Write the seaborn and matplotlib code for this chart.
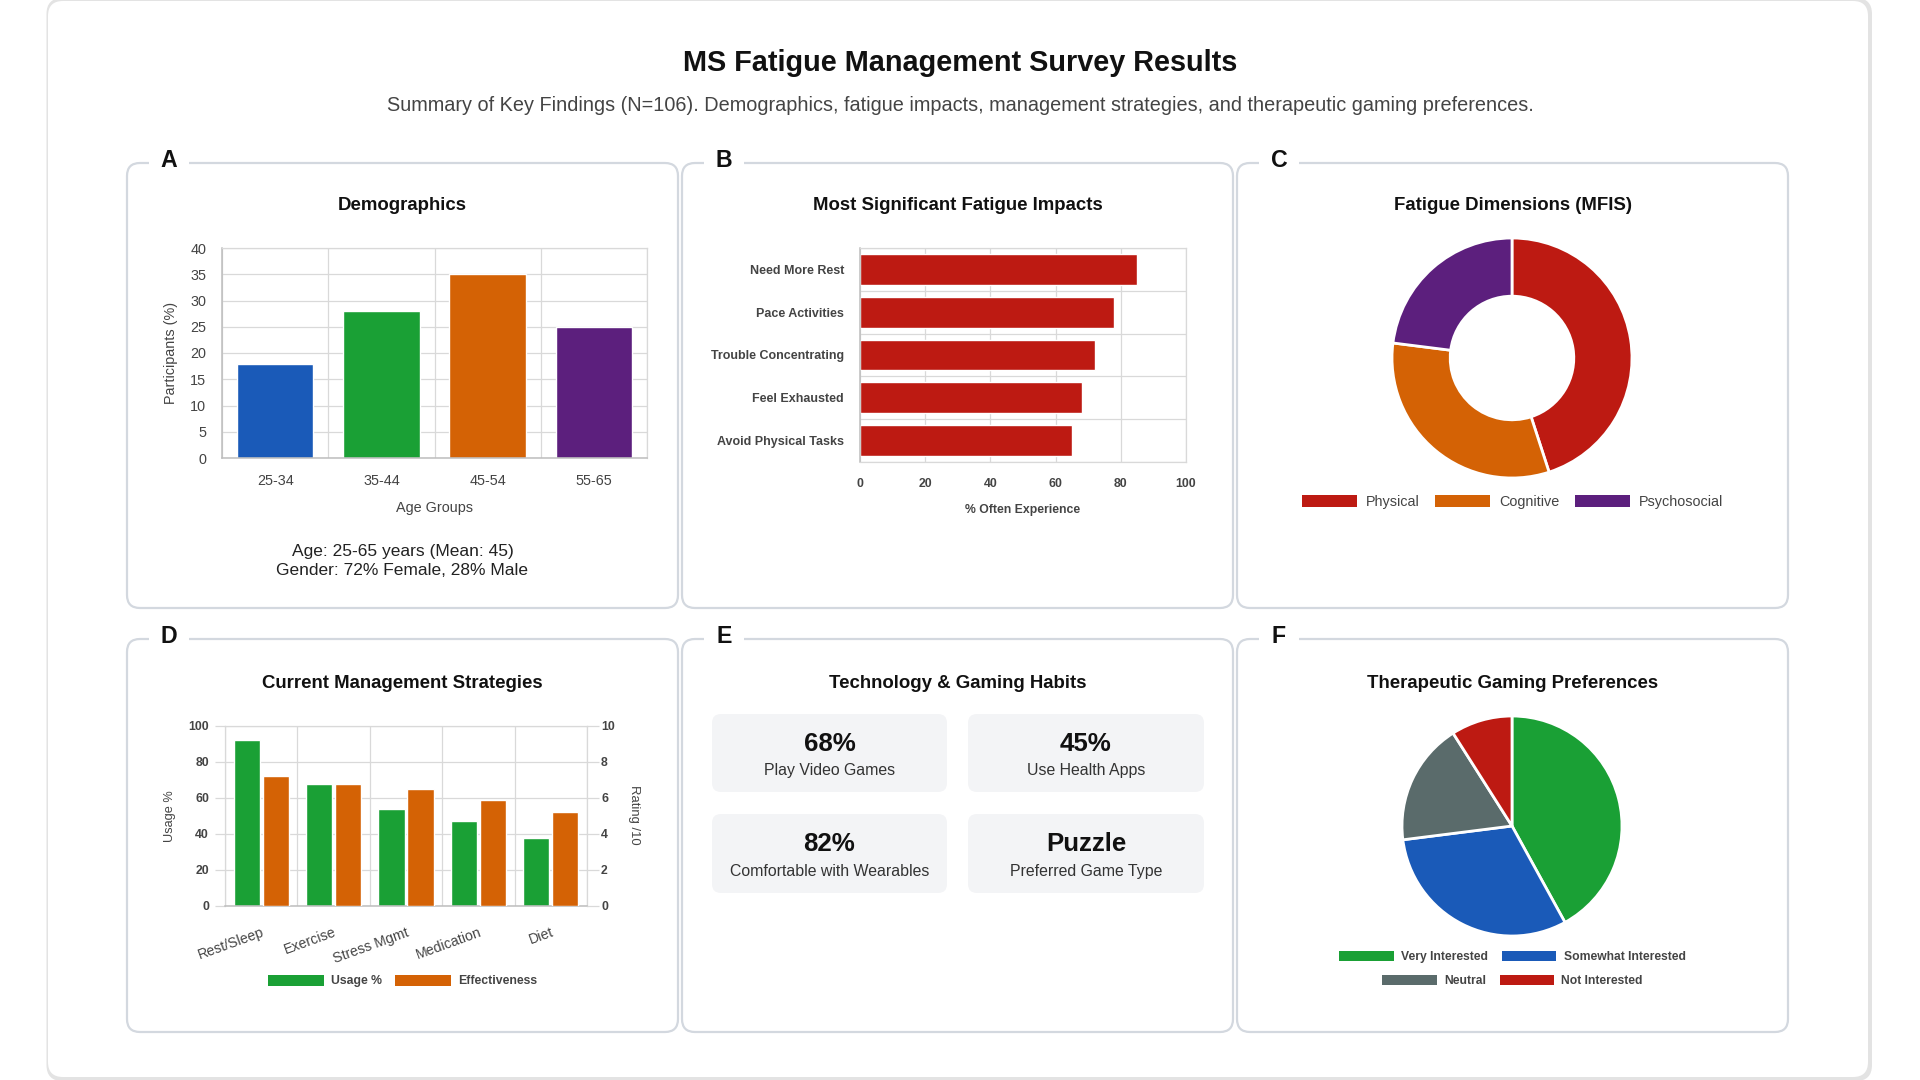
import numpy as np
import pandas as pd
import matplotlib
matplotlib.use("Agg")
import matplotlib.pyplot as plt
import seaborn as sns
from matplotlib.patches import FancyBboxPatch, Patch, Rectangle

# ---------------- data ----------------
age_groups = ["25-34", "35-44", "45-54", "55-65"]
age_pct = [18, 28, 35, 25]

impact_labels = ["Need More Rest", "Pace Activities", "Trouble Concentrating",
                 "Feel Exhausted", "Avoid Physical Tasks"]
impact_pct = [85, 78, 72, 68, 65]

dim_labels = ["Physical", "Cognitive", "Psychosocial"]
dim_values = [45, 32, 23]

strategies = ["Rest/Sleep", "Exercise", "Stress Mgmt", "Medication", "Diet"]
usage_pct = [92, 68, 54, 47, 38]
effectiveness = [7.2, 6.8, 6.5, 5.9, 5.2]
series_names = ["Usage %", "Effectiveness"]

stat_values = ["68%", "45%", "82%", "Puzzle"]
stat_labels = ["Play Video Games", "Use Health Apps",
               "Comfortable with Wearables", "Preferred Game Type"]

pref_labels = ["Very Interested", "Somewhat Interested", "Neutral", "Not Interested"]
pref_values = [42, 31, 18, 9]

# ---------------- style ----------------
BLUE, GREEN, ORANGE, PURPLE = "#1a5ab8", "#1aa035", "#d46205", "#5c1f7d"
RED, SLATE = "#bd1a12", "#5a6b6b"
GRID, AXIS, TICK = "#d9d9d9", "#bdbdbd", "#444444"

sns.set_theme(style="white")
plt.rcParams["font.family"] = ["Liberation Sans", "DejaVu Sans"]

W, H = 1920, 1080
fig = plt.figure(figsize=(19.2, 10.8), dpi=100, facecolor="white")
bg = fig.add_axes([0, 0, 1, 1], zorder=-10)
bg.set_xlim(0, W)
bg.set_ylim(H, 0)
bg.axis("off")


def add_axes_px(l, t, r, b):
    return fig.add_axes([l / W, 1 - b / H, (r - l) / W, (b - t) / H])


def rbox(x0, y0, x1, y1, r, fc, ec="none", lw=0, z=1):
    p = FancyBboxPatch((x0, y0), x1 - x0, y1 - y0,
                       boxstyle=f"round,pad=0,rounding_size={r}",
                       fc=fc, ec=ec, lw=lw, zorder=z)
    bg.add_patch(p)


def ptext(x, yc, s, size, weight="normal", color="#222222", ha="center"):
    px = size / 0.72
    yb = yc + 0.36 * px
    fig.text(x / W, 1 - yb / H, s, fontsize=size, fontweight=weight,
             color=color, ha=ha, va="baseline")


def legend_px(labels, colors, xc, yc, size, weight, hl, hh, htp, cs):
    handles = [Patch(facecolor=c, edgecolor=c, linewidth=0) for c in colors]
    fig.legend(handles, labels, loc="center", bbox_to_anchor=(xc / W, 1 - yc / H),
               ncol=len(labels), frameon=False,
               prop={"size": size, "weight": weight, "family": ["Liberation Sans", "DejaVu Sans"]},
               handlelength=hl, handleheight=hh, handletextpad=htp,
               columnspacing=cs, borderpad=0, borderaxespad=0, labelcolor=TICK)


def style_spines(ax, dark=("left", "bottom")):
    for k, s in ax.spines.items():
        s.set_color(AXIS if k in dark else GRID)
        s.set_linewidth(1.1 if k in dark else 0.9)
    ax.set_axisbelow(True)


# ---------------- outer card ----------------
rbox(46.5, -2, 1872, 1081, 16, "#e3e3e3", z=0)
rbox(48, 1, 1868, 1077, 15, "white", z=0.5)

ptext(960, 61, "MS Fatigue Management Survey Results", 20.8, "bold", "#111111")
ptext(960, 104, "Summary of Key Findings (N=106). Demographics, fatigue impacts, "
      "management strategies, and therapeutic gaming preferences.", 14.3, "normal", "#444444")

# ---------------- panels ----------------
cols = [(127, 678), (682, 1233), (1237, 1788)]
rows = [(163, 608), (639, 1032)]
letters = ["A", "B", "C", "D", "E", "F"]
titles = ["Demographics", "Most Significant Fatigue Impacts", "Fatigue Dimensions (MFIS)",
          "Current Management Strategies", "Technology & Gaming Habits",
          "Therapeutic Gaming Preferences"]
title_y = [203, 681]
for ri, (t, b) in enumerate(rows):
    for ci, (l, r) in enumerate(cols):
        idx = ri * 3 + ci
        rbox(l, t, r, b, 13, "white", "#d3d8df", 1.6, z=1)
        bg.add_patch(Rectangle((l + 22, t - 12), 40, 22, fc="white", ec="none", zorder=2))
        ptext(l + 42, t - 4, letters[idx], 16.7, "bold", "#111111")
        ptext((l + r) / 2, title_y[ri], titles[idx], 13.4, "bold", "#111111")

# ---------------- A: demographics ----------------
axA = add_axes_px(222, 248, 647, 458)
sns.barplot(x=age_groups, y=age_pct, hue=age_groups,
            palette=[BLUE, GREEN, ORANGE, PURPLE], legend=False,
            width=0.72, saturation=1, ax=axA)
axA.set_xlim(-0.5, 3.5)
axA.set_ylim(0, 40)
axA.set_yticks(range(0, 41, 5))
axA.set_xticks(range(4))
axA.set_xticklabels(age_groups)
axA.set_xticks(np.arange(-0.5, 4, 1), minor=True)
axA.grid(axis="y", which="major", color=GRID, lw=0.9)
axA.grid(axis="x", which="minor", color=GRID, lw=0.9)
axA.tick_params(axis="x", which="major", length=0, pad=11.5, labelsize=10.4, labelcolor=TICK)
axA.tick_params(axis="x", which="minor", length=8, width=0.9, color=GRID)
axA.tick_params(axis="y", length=8.6, width=0.9, pad=2.9, color=GRID,
                labelsize=10.4, labelcolor=TICK)
axA.set_xlabel("")
axA.set_ylabel("")
style_spines(axA)
fig.text(434.5 / W, 1 - 508 / H, "Age Groups", fontsize=10.4, color=TICK, ha="center", va="center")
fig.text(171 / W, 1 - 353 / H, "Participants (%)", fontsize=10.4, color=TICK,
         ha="center", va="center", rotation=90)
ptext(402.5, 550, "Age: 25-65 years (Mean: 45)", 12.5, "normal", "#222222")
ptext(402.5, 569, "Gender: 72% Female, 28% Male", 12.5, "normal", "#222222")

# ---------------- B: impacts ----------------
axB = add_axes_px(860, 248, 1186, 462)
dfB = pd.DataFrame({"Impact": impact_labels, "Pct": impact_pct})
sns.barplot(data=dfB, x="Pct", y="Impact", orient="h", color=RED,
            width=0.72, saturation=1, ax=axB)
axB.set_xlim(0, 100)
axB.set_ylim(4.5, -0.5)
axB.set_xticks(range(0, 101, 20))
axB.set_xticklabels([str(v) for v in range(0, 101, 20)], fontweight="bold")
axB.set_yticks(range(5))
axB.set_yticklabels(impact_labels, fontweight="bold")
axB.set_yticks(np.arange(-0.5, 5, 1), minor=True)
axB.grid(axis="x", which="major", color=GRID, lw=0.9)
axB.grid(axis="y", which="minor", color=GRID, lw=0.9)
axB.tick_params(axis="y", which="major", length=0, pad=11.5, labelsize=9, labelcolor=TICK)
axB.tick_params(axis="y", which="minor", length=8.6, width=0.9, color=GRID)
axB.tick_params(axis="x", length=7.2, width=0.9, pad=4.3, color=GRID,
                labelsize=8.8, labelcolor=TICK)
axB.set_xlabel("")
axB.set_ylabel("")
style_spines(axB, dark=("left",))
fig.text(1023 / W, 1 - 509.5 / H, "% Often Experience", fontsize=8.8, fontweight="bold",
         color=TICK, ha="center", va="center")

# ---------------- C: donut ----------------
axC = add_axes_px(1392, 238, 1632, 478)
wedges, _ = axC.pie(dim_values, colors=[RED, ORANGE, PURPLE], startangle=90,
                    counterclock=False,
                    wedgeprops=dict(width=0.485, edgecolor="white", linewidth=2))
for w in wedges:
    w.set_clip_on(False)
axC.set_xlim(-1, 1)
axC.set_ylim(-1, 1)
axC.set_aspect("equal")
axC.axis("off")
legend_px(dim_labels, [RED, ORANGE, PURPLE], 1512.5, 502, 10.4, "normal",
          3.8, 0.83, 0.62, 1.09)

# ---------------- D: strategies ----------------
axD = add_axes_px(225, 726, 587, 906)
axD2 = axD.twinx()
dfU = pd.DataFrame({"Strategy": strategies, "Value": usage_pct, "Series": series_names[0]})
dfE = pd.DataFrame({"Strategy": strategies, "Value": effectiveness, "Series": series_names[1]})
pal = {series_names[0]: GREEN, series_names[1]: ORANGE}
sns.barplot(data=dfU, x="Strategy", y="Value", hue="Series", hue_order=series_names,
            order=strategies, palette=pal, dodge=True, width=0.8, gap=0.1,
            saturation=1, legend=False, ax=axD)
sns.barplot(data=dfE, x="Strategy", y="Value", hue="Series", hue_order=series_names,
            order=strategies, palette=pal, dodge=True, width=0.8, gap=0.1,
            saturation=1, legend=False, ax=axD2)
axD.set_ylim(0, 100)
axD2.set_ylim(0, 10)
axD.set_xlim(-0.5, 4.5)
axD.set_yticks(range(0, 101, 20))
axD.set_yticklabels([str(v) for v in range(0, 101, 20)], fontweight="bold")
axD2.set_yticks(range(0, 11, 2))
axD2.set_yticklabels([str(v) for v in range(0, 11, 2)], fontweight="bold")
axD.set_xticks(range(5))
axD.set_xticklabels(strategies, rotation=20, ha="right", va="top", rotation_mode="anchor")
axD.set_xticks(np.arange(-0.5, 5, 1), minor=True)
axD.grid(axis="y", which="major", color=GRID, lw=0.9)
axD.grid(axis="x", which="minor", color=GRID, lw=0.9)
axD.tick_params(axis="x", which="major", length=0, pad=14, labelsize=10.2, labelcolor=TICK)
axD.tick_params(axis="x", which="minor", length=7.2, width=0.9, color=GRID)
axD.tick_params(axis="y", length=7.2, width=0.9, pad=4.4, color=GRID,
                labelsize=8.8, labelcolor=TICK)
axD2.tick_params(axis="y", length=8.6, width=0.9, pad=1.5, color=GRID,
                 labelsize=8.8, labelcolor=TICK)
for a in (axD, axD2):
    a.set_xlabel("")
    a.set_ylabel("")
style_spines(axD, dark=("bottom",))
for s in axD2.spines.values():
    s.set_visible(False)
fig.text(170 / W, 1 - 816 / H, "Usage %", fontsize=9.2, color=TICK,
         ha="center", va="center", rotation=90)
fig.text(634 / W, 1 - 815 / H, "Rating /10", fontsize=9.4, color=TICK,
         ha="center", va="center", rotation=-90)
legend_px(series_names, [GREEN, ORANGE], 402.5, 981, 8.8, "bold", 4.6, 1.0, 0.59, 1.03)

# ---------------- E: stat cards ----------------
card_x = [(712, 947), (968, 1204)]
card_y = [(714, 792), (814, 893)]
num_y = [741.7, 841.7]
lab_y = [769, 870]
for i in range(4):
    rr, cc = divmod(i, 2)
    x0, x1 = card_x[cc]
    y0, y1 = card_y[rr]
    rbox(x0, y0, x1, y1, 9, "#f3f4f6", z=2)
    ptext((x0 + x1) / 2, num_y[rr], stat_values[i], 18.6, "bold", "#111111")
    ptext((x0 + x1) / 2, lab_y[rr], stat_labels[i], 11.4, "normal", "#333333")

# ---------------- F: pie ----------------
axF = add_axes_px(1402, 716, 1622, 936)
wedgesF, _ = axF.pie(pref_values, colors=[GREEN, BLUE, SLATE, RED], startangle=90,
                     counterclock=False,
                     wedgeprops=dict(edgecolor="white", linewidth=2))
for w in wedgesF:
    w.set_clip_on(False)
axF.set_xlim(-1, 1)
axF.set_ylim(-1, 1)
axF.set_aspect("equal")
axF.axis("off")
legend_px(pref_labels[:2], [GREEN, BLUE], 1512.5, 956.7, 8.7, "bold", 4.5, 0.9, 0.6, 1.14)
legend_px(pref_labels[2:], [SLATE, RED], 1512.5, 981, 8.7, "bold", 4.5, 0.9, 0.6, 1.14)

fig.savefig("out.png", dpi=100, facecolor="white")
